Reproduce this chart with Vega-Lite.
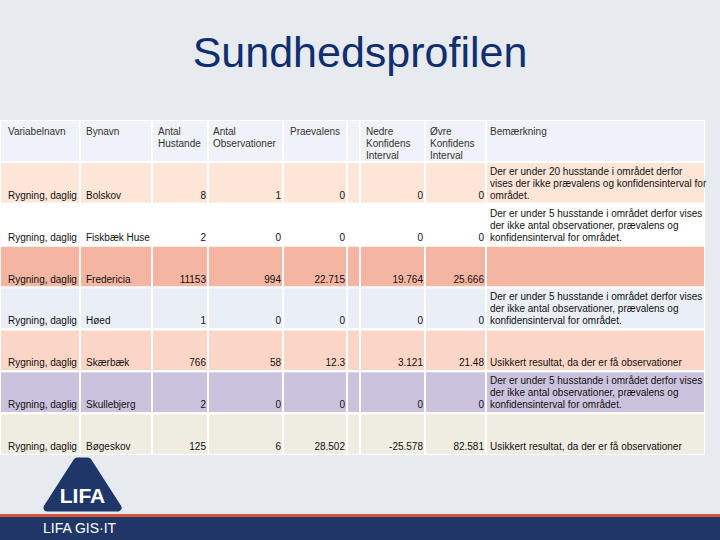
{
  "$schema": "https://vega.github.io/schema/vega-lite/v6.json",
  "background": "#e7eaef",
  "padding": 0,
  "spacing": 0,
  "config": {
    "view": {"stroke": null},
    "text": {"font": "Liberation Sans", "fontSize": 10},
    "locale": {"number": {"decimal": ".", "thousands": ",", "grouping": [3], "currency": ["", ""], "minus": "-"}}
  },
  "data": {"values": [
    {"var": "Rygning, daglig", "by": "Bolskov", "hus": 8, "obs": 1, "prae": 0, "nedre": 0, "ovre": 0, "bem": "Der er under 20 husstande i området derfor\nvises der ikke prævalens og konfidensinterval for\nområdet."},
    {"var": "Rygning, daglig", "by": "Fiskbæk Huse", "hus": 2, "obs": 0, "prae": 0, "nedre": 0, "ovre": 0, "bem": "Der er under 5 husstande i området derfor vises\nder ikke antal observationer, prævalens og\nkonfidensinterval for området."},
    {"var": "Rygning, daglig", "by": "Fredericia", "hus": 11153, "obs": 994, "prae": 22.715, "nedre": 19.764, "ovre": 25.666, "bem": ""},
    {"var": "Rygning, daglig", "by": "Høed", "hus": 1, "obs": 0, "prae": 0, "nedre": 0, "ovre": 0, "bem": "Der er under 5 husstande i området derfor vises\nder ikke antal observationer, prævalens og\nkonfidensinterval for området."},
    {"var": "Rygning, daglig", "by": "Skærbæk", "hus": 766, "obs": 58, "prae": 12.3, "nedre": 3.121, "ovre": 21.48, "bem": "Usikkert resultat, da der er få observationer"},
    {"var": "Rygning, daglig", "by": "Skullebjerg", "hus": 2, "obs": 0, "prae": 0, "nedre": 0, "ovre": 0, "bem": "Der er under 5 husstande i området derfor vises\nder ikke antal observationer, prævalens og\nkonfidensinterval for området."},
    {"var": "Rygning, daglig", "by": "Bøgeskov", "hus": 125, "obs": 6, "prae": 28.502, "nedre": -25.578, "ovre": 82.581, "bem": "Usikkert resultat, da der er få observationer"}
  ]},
  "vconcat": [
    {
      "width": 720, "height": 120,
      "data": {"values": [{"t": "Sundhedsprofilen"}]},
      "mark": {"type": "text", "fontSize": 43, "color": "#0f2f6e", "baseline": "alphabetic", "dy": 7},
      "encoding": {"text": {"field": "t", "type": "nominal"}}
    },
    {
      "spacing": 0,
      "hconcat": [
        {"width": 80, "height": 335, "layer": [
          {"mark": {"type": "rect", "stroke": "white", "strokeWidth": 2, "clip": true},
           "encoding": {"y": {"field": "by", "type": "nominal", "axis": null, "scale": {"type": "band", "domain": ["header", "Bolskov", "Fiskbæk Huse", "Fredericia", "Høed", "Skærbæk", "Skullebjerg", "Bøgeskov"], "paddingInner": 0, "paddingOuter": 0}},
                        "color": {"field": "by", "type": "nominal", "legend": null, "scale": {"domain": ["header", "Bolskov", "Fiskbæk Huse", "Fredericia", "Høed", "Skærbæk", "Skullebjerg", "Bøgeskov"], "range": ["#eff2f8", "#fde6d8", "#ffffff", "#f4b6a2", "#eaeef6", "#fbd6c7", "#cbc3de", "#efece2"]}}}},
          {"data": {"values": [{"by": "header", "label": "Variabelnavn"}]}, "layer": [
            {"mark": {"type": "rect", "stroke": "white", "strokeWidth": 2, "clip": true},
             "encoding": {"y": {"field": "by", "type": "nominal", "axis": null}, "color": {"field": "by", "type": "nominal", "legend": null}}},
            {"mark": {"type": "text", "align": "left", "baseline": "top", "lineBreak": "\n", "lineHeight": 12, "dx": 8, "dy": 7, "color": "#333333"},
             "encoding": {"y": {"field": "by", "type": "nominal", "axis": null, "bandPosition": 0}, "x": {"value": 0}, "text": {"field": "label", "type": "nominal"}}}
          ]},
          {"mark": {"type": "text", "align": "left", "baseline": "bottom", "dx": 8, "dy": -3, "color": "#111111"},
           "encoding": {"y": {"field": "by", "type": "nominal", "axis": null, "bandPosition": 1}, "x": {"value": 0}, "text": {"field": "var", "type": "nominal"}}}
        ]},
        {"width": 72, "height": 335, "layer": [
          {"mark": {"type": "rect", "stroke": "white", "strokeWidth": 2, "clip": true},
           "encoding": {"y": {"field": "by", "type": "nominal", "axis": null, "scale": {"type": "band", "domain": ["header", "Bolskov", "Fiskbæk Huse", "Fredericia", "Høed", "Skærbæk", "Skullebjerg", "Bøgeskov"], "paddingInner": 0, "paddingOuter": 0}},
                        "color": {"field": "by", "type": "nominal", "legend": null, "scale": {"domain": ["header", "Bolskov", "Fiskbæk Huse", "Fredericia", "Høed", "Skærbæk", "Skullebjerg", "Bøgeskov"], "range": ["#eff2f8", "#fde6d8", "#ffffff", "#f4b6a2", "#eaeef6", "#fbd6c7", "#cbc3de", "#efece2"]}}}},
          {"data": {"values": [{"by": "header", "label": "Bynavn"}]}, "layer": [
            {"mark": {"type": "rect", "stroke": "white", "strokeWidth": 2, "clip": true},
             "encoding": {"y": {"field": "by", "type": "nominal", "axis": null}, "color": {"field": "by", "type": "nominal", "legend": null}}},
            {"mark": {"type": "text", "align": "left", "baseline": "top", "lineBreak": "\n", "lineHeight": 12, "dx": 6, "dy": 7, "color": "#333333"},
             "encoding": {"y": {"field": "by", "type": "nominal", "axis": null, "bandPosition": 0}, "x": {"value": 0}, "text": {"field": "label", "type": "nominal"}}}
          ]},
          {"mark": {"type": "text", "align": "left", "baseline": "bottom", "dx": 6, "dy": -3, "color": "#111111"},
           "encoding": {"y": {"field": "by", "type": "nominal", "axis": null, "bandPosition": 1}, "x": {"value": 0}, "text": {"field": "by", "type": "nominal"}}}
        ]},
        {"width": 56, "height": 335, "layer": [
          {"mark": {"type": "rect", "stroke": "white", "strokeWidth": 2, "clip": true},
           "encoding": {"y": {"field": "by", "type": "nominal", "axis": null, "scale": {"type": "band", "domain": ["header", "Bolskov", "Fiskbæk Huse", "Fredericia", "Høed", "Skærbæk", "Skullebjerg", "Bøgeskov"], "paddingInner": 0, "paddingOuter": 0}},
                        "color": {"field": "by", "type": "nominal", "legend": null, "scale": {"domain": ["header", "Bolskov", "Fiskbæk Huse", "Fredericia", "Høed", "Skærbæk", "Skullebjerg", "Bøgeskov"], "range": ["#eff2f8", "#fde6d8", "#ffffff", "#f4b6a2", "#eaeef6", "#fbd6c7", "#cbc3de", "#efece2"]}}}},
          {"data": {"values": [{"by": "header", "label": "Antal\nHustande"}]}, "layer": [
            {"mark": {"type": "rect", "stroke": "white", "strokeWidth": 2, "clip": true},
             "encoding": {"y": {"field": "by", "type": "nominal", "axis": null}, "color": {"field": "by", "type": "nominal", "legend": null}}},
            {"mark": {"type": "text", "align": "left", "baseline": "top", "lineBreak": "\n", "lineHeight": 12, "dx": 6, "dy": 7, "color": "#333333"},
             "encoding": {"y": {"field": "by", "type": "nominal", "axis": null, "bandPosition": 0}, "x": {"value": 0}, "text": {"field": "label", "type": "nominal"}}}
          ]},
          {"mark": {"type": "text", "align": "right", "baseline": "bottom", "dx": -2, "dy": -3, "color": "#111111"},
           "encoding": {"y": {"field": "by", "type": "nominal", "axis": null, "bandPosition": 1}, "x": {"value": "width"}, "text": {"field": "hus", "type": "quantitative"}}}
        ]},
        {"width": 75, "height": 335, "layer": [
          {"mark": {"type": "rect", "stroke": "white", "strokeWidth": 2, "clip": true},
           "encoding": {"y": {"field": "by", "type": "nominal", "axis": null, "scale": {"type": "band", "domain": ["header", "Bolskov", "Fiskbæk Huse", "Fredericia", "Høed", "Skærbæk", "Skullebjerg", "Bøgeskov"], "paddingInner": 0, "paddingOuter": 0}},
                        "color": {"field": "by", "type": "nominal", "legend": null, "scale": {"domain": ["header", "Bolskov", "Fiskbæk Huse", "Fredericia", "Høed", "Skærbæk", "Skullebjerg", "Bøgeskov"], "range": ["#eff2f8", "#fde6d8", "#ffffff", "#f4b6a2", "#eaeef6", "#fbd6c7", "#cbc3de", "#efece2"]}}}},
          {"data": {"values": [{"by": "header", "label": "Antal\nObservationer"}]}, "layer": [
            {"mark": {"type": "rect", "stroke": "white", "strokeWidth": 2, "clip": true},
             "encoding": {"y": {"field": "by", "type": "nominal", "axis": null}, "color": {"field": "by", "type": "nominal", "legend": null}}},
            {"mark": {"type": "text", "align": "left", "baseline": "top", "lineBreak": "\n", "lineHeight": 12, "dx": 5, "dy": 7, "color": "#333333"},
             "encoding": {"y": {"field": "by", "type": "nominal", "axis": null, "bandPosition": 0}, "x": {"value": 0}, "text": {"field": "label", "type": "nominal"}}}
          ]},
          {"mark": {"type": "text", "align": "right", "baseline": "bottom", "dx": -2, "dy": -3, "color": "#111111"},
           "encoding": {"y": {"field": "by", "type": "nominal", "axis": null, "bandPosition": 1}, "x": {"value": "width"}, "text": {"field": "obs", "type": "quantitative"}}}
        ]},
        {"width": 64, "height": 335, "layer": [
          {"mark": {"type": "rect", "stroke": "white", "strokeWidth": 2, "clip": true},
           "encoding": {"y": {"field": "by", "type": "nominal", "axis": null, "scale": {"type": "band", "domain": ["header", "Bolskov", "Fiskbæk Huse", "Fredericia", "Høed", "Skærbæk", "Skullebjerg", "Bøgeskov"], "paddingInner": 0, "paddingOuter": 0}},
                        "color": {"field": "by", "type": "nominal", "legend": null, "scale": {"domain": ["header", "Bolskov", "Fiskbæk Huse", "Fredericia", "Høed", "Skærbæk", "Skullebjerg", "Bøgeskov"], "range": ["#eff2f8", "#fde6d8", "#ffffff", "#f4b6a2", "#eaeef6", "#fbd6c7", "#cbc3de", "#efece2"]}}}},
          {"data": {"values": [{"by": "header", "label": "Praevalens"}]}, "layer": [
            {"mark": {"type": "rect", "stroke": "white", "strokeWidth": 2, "clip": true},
             "encoding": {"y": {"field": "by", "type": "nominal", "axis": null}, "color": {"field": "by", "type": "nominal", "legend": null}}},
            {"mark": {"type": "text", "align": "left", "baseline": "top", "lineBreak": "\n", "lineHeight": 12, "dx": 7, "dy": 7, "color": "#333333"},
             "encoding": {"y": {"field": "by", "type": "nominal", "axis": null, "bandPosition": 0}, "x": {"value": 0}, "text": {"field": "label", "type": "nominal"}}}
          ]},
          {"mark": {"type": "text", "align": "right", "baseline": "bottom", "dx": -2, "dy": -3, "color": "#111111"},
           "encoding": {"y": {"field": "by", "type": "nominal", "axis": null, "bandPosition": 1}, "x": {"value": "width"}, "text": {"field": "prae", "type": "quantitative"}}}
        ]},
        {"width": 13, "height": 335, "layer": [
          {"mark": {"type": "rect", "stroke": "white", "strokeWidth": 2, "clip": true},
           "encoding": {"y": {"field": "by", "type": "nominal", "axis": null, "scale": {"type": "band", "domain": ["header", "Bolskov", "Fiskbæk Huse", "Fredericia", "Høed", "Skærbæk", "Skullebjerg", "Bøgeskov"], "paddingInner": 0, "paddingOuter": 0}},
                        "color": {"field": "by", "type": "nominal", "legend": null, "scale": {"domain": ["header", "Bolskov", "Fiskbæk Huse", "Fredericia", "Høed", "Skærbæk", "Skullebjerg", "Bøgeskov"], "range": ["#eff2f8", "#fde6d8", "#ffffff", "#f4b6a2", "#eaeef6", "#fbd6c7", "#cbc3de", "#efece2"]}}}},
          {"data": {"values": [{"by": "header"}]},
           "mark": {"type": "rect", "stroke": "white", "strokeWidth": 2, "clip": true},
           "encoding": {"y": {"field": "by", "type": "nominal", "axis": null}, "color": {"field": "by", "type": "nominal", "legend": null}}}
        ]},
        {"width": 65, "height": 335, "layer": [
          {"mark": {"type": "rect", "stroke": "white", "strokeWidth": 2, "clip": true},
           "encoding": {"y": {"field": "by", "type": "nominal", "axis": null, "scale": {"type": "band", "domain": ["header", "Bolskov", "Fiskbæk Huse", "Fredericia", "Høed", "Skærbæk", "Skullebjerg", "Bøgeskov"], "paddingInner": 0, "paddingOuter": 0}},
                        "color": {"field": "by", "type": "nominal", "legend": null, "scale": {"domain": ["header", "Bolskov", "Fiskbæk Huse", "Fredericia", "Høed", "Skærbæk", "Skullebjerg", "Bøgeskov"], "range": ["#eff2f8", "#fde6d8", "#ffffff", "#f4b6a2", "#eaeef6", "#fbd6c7", "#cbc3de", "#efece2"]}}}},
          {"data": {"values": [{"by": "header", "label": "Nedre\nKonfidens\nInterval"}]}, "layer": [
            {"mark": {"type": "rect", "stroke": "white", "strokeWidth": 2, "clip": true},
             "encoding": {"y": {"field": "by", "type": "nominal", "axis": null}, "color": {"field": "by", "type": "nominal", "legend": null}}},
            {"mark": {"type": "text", "align": "left", "baseline": "top", "lineBreak": "\n", "lineHeight": 12, "dx": 6, "dy": 7, "color": "#333333"},
             "encoding": {"y": {"field": "by", "type": "nominal", "axis": null, "bandPosition": 0}, "x": {"value": 0}, "text": {"field": "label", "type": "nominal"}}}
          ]},
          {"mark": {"type": "text", "align": "right", "baseline": "bottom", "dx": -2, "dy": -3, "color": "#111111"},
           "encoding": {"y": {"field": "by", "type": "nominal", "axis": null, "bandPosition": 1}, "x": {"value": "width"}, "text": {"field": "nedre", "type": "quantitative"}}}
        ]},
        {"width": 61, "height": 335, "layer": [
          {"mark": {"type": "rect", "stroke": "white", "strokeWidth": 2, "clip": true},
           "encoding": {"y": {"field": "by", "type": "nominal", "axis": null, "scale": {"type": "band", "domain": ["header", "Bolskov", "Fiskbæk Huse", "Fredericia", "Høed", "Skærbæk", "Skullebjerg", "Bøgeskov"], "paddingInner": 0, "paddingOuter": 0}},
                        "color": {"field": "by", "type": "nominal", "legend": null, "scale": {"domain": ["header", "Bolskov", "Fiskbæk Huse", "Fredericia", "Høed", "Skærbæk", "Skullebjerg", "Bøgeskov"], "range": ["#eff2f8", "#fde6d8", "#ffffff", "#f4b6a2", "#eaeef6", "#fbd6c7", "#cbc3de", "#efece2"]}}}},
          {"data": {"values": [{"by": "header", "label": "Øvre\nKonfidens\nInterval"}]}, "layer": [
            {"mark": {"type": "rect", "stroke": "white", "strokeWidth": 2, "clip": true},
             "encoding": {"y": {"field": "by", "type": "nominal", "axis": null}, "color": {"field": "by", "type": "nominal", "legend": null}}},
            {"mark": {"type": "text", "align": "left", "baseline": "top", "lineBreak": "\n", "lineHeight": 12, "dx": 5, "dy": 7, "color": "#333333"},
             "encoding": {"y": {"field": "by", "type": "nominal", "axis": null, "bandPosition": 0}, "x": {"value": 0}, "text": {"field": "label", "type": "nominal"}}}
          ]},
          {"mark": {"type": "text", "align": "right", "baseline": "bottom", "dx": -2, "dy": -3, "color": "#111111"},
           "encoding": {"y": {"field": "by", "type": "nominal", "axis": null, "bandPosition": 1}, "x": {"value": "width"}, "text": {"field": "ovre", "type": "quantitative"}}}
        ]},
        {"width": 219, "height": 335, "layer": [
          {"mark": {"type": "rect", "stroke": "white", "strokeWidth": 2, "clip": true},
           "encoding": {"y": {"field": "by", "type": "nominal", "axis": null, "scale": {"type": "band", "domain": ["header", "Bolskov", "Fiskbæk Huse", "Fredericia", "Høed", "Skærbæk", "Skullebjerg", "Bøgeskov"], "paddingInner": 0, "paddingOuter": 0}},
                        "color": {"field": "by", "type": "nominal", "legend": null, "scale": {"domain": ["header", "Bolskov", "Fiskbæk Huse", "Fredericia", "Høed", "Skærbæk", "Skullebjerg", "Bøgeskov"], "range": ["#eff2f8", "#fde6d8", "#ffffff", "#f4b6a2", "#eaeef6", "#fbd6c7", "#cbc3de", "#efece2"]}}}},
          {"data": {"values": [{"by": "header", "label": "Bemærkning"}]}, "layer": [
            {"mark": {"type": "rect", "stroke": "white", "strokeWidth": 2, "clip": true},
             "encoding": {"y": {"field": "by", "type": "nominal", "axis": null}, "color": {"field": "by", "type": "nominal", "legend": null}}},
            {"mark": {"type": "text", "align": "left", "baseline": "top", "lineBreak": "\n", "lineHeight": 12, "dx": 4, "dy": 7, "color": "#333333"},
             "encoding": {"y": {"field": "by", "type": "nominal", "axis": null, "bandPosition": 0}, "x": {"value": 0}, "text": {"field": "label", "type": "nominal"}}}
          ]},
          {"transform": [{"filter": "indexof(datum.bem, '\\n') >= 0"}],
           "mark": {"type": "text", "align": "left", "baseline": "bottom", "lineBreak": "\n", "lineHeight": 12, "dx": 4, "dy": -27, "color": "#111111"},
           "encoding": {"y": {"field": "by", "type": "nominal", "axis": null, "bandPosition": 1}, "x": {"value": 0}, "text": {"field": "bem", "type": "nominal"}}},
          {"transform": [{"filter": "indexof(datum.bem, '\\n') < 0"}],
           "mark": {"type": "text", "align": "left", "baseline": "bottom", "dx": 4, "dy": -3, "color": "#111111"},
           "encoding": {"y": {"field": "by", "type": "nominal", "axis": null, "bandPosition": 1}, "x": {"value": 0}, "text": {"field": "bem", "type": "nominal"}}}
        ]}
      ]
    },
    {
      "width": 165, "height": 59,
      "data": {"values": [{"logo": "LIFA"}]},
      "layer": [
        {"mark": {"type": "point", "shape": "M-0.15,-0.66 L0.15,-0.66 L1,0.66 L-1,0.66 Z", "filled": true, "color": "#1f3768", "stroke": "#1f3768", "strokeWidth": 8, "strokeJoin": "round", "size": 4900, "opacity": 1},
         "encoding": {}},
        {"mark": {"type": "text", "font": "Liberation Sans", "fontSize": 21, "fontWeight": "bold", "color": "white", "baseline": "alphabetic", "dy": 18},
         "encoding": {"text": {"field": "logo", "type": "nominal"}}}
      ]
    },
    {
      "width": 720, "height": 3,
      "data": {"values": [{"line": "accent"}]},
      "mark": {"type": "rect", "color": "#d4573b"},
      "encoding": {}
    },
    {
      "width": 720, "height": 23,
      "view": {"fill": "#1f3667", "stroke": null},
      "data": {"values": [{"brand": "LIFA GIS·IT"}]},
      "mark": {"type": "text", "align": "left", "baseline": "alphabetic", "fontSize": 14, "color": "white", "dx": 43, "dy": 4, "clip": true},
      "encoding": {"x": {"value": 0}, "text": {"field": "brand", "type": "nominal"}}
    }
  ]
}
